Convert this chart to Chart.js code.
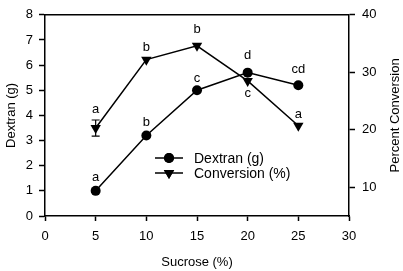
<!DOCTYPE html>
<html>
<head>
<meta charset="utf-8">
<script src="https://cdn.jsdelivr.net/npm/chart.js@4.4.0/dist/chart.umd.min.js"></script>
<style>
  html, body { margin: 0; padding: 0; background: #fff; }
  #wrap { width: 403px; height: 271px; }
</style>
</head>
<body>
<div id="wrap"><canvas id="dextranChart"></canvas></div>
<script>
// sucrose concentration (%)
var sucrose = [5, 10, 15, 20, 25];
// dextran yield (g), left axis
var dextran = [1.0, 3.2, 5.0, 5.7, 5.2];
var dextranLetters = ["a", "b", "c", "d", "cd"];
// percent conversion, right axis
var conversion = [20.3, 32.2, 34.6, 28.5, 20.7];
var conversionErr = [1.4, 0, 0, 0, 0];
var conversionLetters = ["a", "b", "b", "c", "a"];
// tick labels
var xTicks = [0, 5, 10, 15, 20, 25, 30];
var leftTicks = [0, 1, 2, 3, 4, 5, 6, 7, 8];
var rightTicks = [10, 20, 30, 40];

var FONT = "'Liberation Sans', Arial, sans-serif";

var toPoints = function(xs, ys) {
  return xs.map(function(x, i) { return { x: x, y: ys[i] }; });
};

// letter offsets (px): negative = above the point
var dexOffsets = [-13, -13, -12, -17, -16];
var convOffsets = [-19, -12, -16, 13, -11];

var extrasPlugin = {
  id: 'extras',
  afterDatasetsDraw: function(chart) {
    var ctx = chart.ctx;
    var xs = chart.scales.x, yl = chart.scales.y, yr = chart.scales.y2;
    var area = chart.chartArea;
    ctx.save();

    // top frame line
    ctx.strokeStyle = '#000';
    ctx.lineWidth = 1.5;
    ctx.beginPath();
    ctx.moveTo(area.left, area.top);
    ctx.lineTo(area.right, area.top);
    ctx.stroke();

    // error bars on conversion
    ctx.lineWidth = 1.2;
    conversion.forEach(function(v, i) {
      if (!conversionErr[i]) return;
      var px = xs.getPixelForValue(sucrose[i]);
      var top = yr.getPixelForValue(v + conversionErr[i]);
      var bot = yr.getPixelForValue(v - conversionErr[i]);
      ctx.beginPath();
      ctx.moveTo(px, top); ctx.lineTo(px, bot);
      ctx.moveTo(px - 4, top); ctx.lineTo(px + 4, top);
      ctx.moveTo(px - 4, bot); ctx.lineTo(px + 4, bot);
      ctx.stroke();
    });

    // significance letters
    ctx.fillStyle = '#000';
    ctx.font = '13px ' + FONT;
    ctx.textAlign = 'center';
    ctx.textBaseline = 'middle';
    dextranLetters.forEach(function(t, i) {
      ctx.fillText(t, xs.getPixelForValue(sucrose[i]), yl.getPixelForValue(dextran[i]) + dexOffsets[i]);
    });
    conversionLetters.forEach(function(t, i) {
      ctx.fillText(t, xs.getPixelForValue(sucrose[i]), yr.getPixelForValue(conversion[i]) + convOffsets[i]);
    });

    // legend inside plot
    var items = [
      { label: 'Dextran (g)', style: 'circle', r: 5, rot: 0 },
      { label: 'Conversion (%)', style: 'triangle', r: 6, rot: 180 }
    ];
    items.forEach(function(it, k) {
      var ly = 158 + k * 15;
      ctx.strokeStyle = '#000';
      ctx.lineWidth = 1.5;
      ctx.beginPath();
      ctx.moveTo(155, ly); ctx.lineTo(183, ly);
      ctx.stroke();
      ctx.fillStyle = '#000';
      Chart.helpers.drawPoint(ctx, { pointStyle: it.style, radius: it.r, rotation: it.rot, borderWidth: 0 }, 169, ly);
      ctx.fill();
      ctx.textAlign = 'left';
      ctx.font = '14px ' + FONT;
      ctx.fillText(it.label, 194, ly + 1);
    });

    // right axis title (reads bottom to top)
    ctx.save();
    ctx.translate(395, (area.top + area.bottom) / 2);
    ctx.rotate(-Math.PI / 2);
    ctx.textAlign = 'center';
    ctx.textBaseline = 'middle';
    ctx.font = '13px ' + FONT;
    ctx.fillText('Percent Conversion', 0, 0);
    ctx.restore();

    ctx.restore();
  }
};

var tickFont = { family: FONT, size: 13 };

new Chart(document.getElementById('dextranChart').getContext('2d'), {
  type: 'line',
  data: {
    datasets: [{
      label: 'Dextran (g)',
      data: toPoints(sucrose, dextran),
      yAxisID: 'y',
      borderColor: '#000',
      backgroundColor: '#000',
      borderWidth: 1.5,
      pointStyle: 'circle',
      pointRadius: 5,
      pointBorderWidth: 0,
      tension: 0
    }, {
      label: 'Conversion (%)',
      data: toPoints(sucrose, conversion),
      yAxisID: 'y2',
      borderColor: '#000',
      backgroundColor: '#000',
      borderWidth: 1.5,
      pointStyle: 'triangle',
      pointRotation: 180,
      pointRadius: 6,
      pointBorderWidth: 0,
      tension: 0
    }]
  },
  options: {
    responsive: true,
    maintainAspectRatio: false,
    animation: false,
    layout: { padding: { top: 9, left: 0, right: 0, bottom: 0 } },
    plugins: { legend: { display: false }, tooltip: { enabled: false } },
    scales: {
      x: {
        type: 'linear', position: 'bottom', min: 0, max: 30,
        afterBuildTicks: function(s) { s.ticks = xTicks.map(function(v) { return { value: v }; }); },
        afterFit: function(s) { s.height = 55; },
        grid: { drawOnChartArea: false, drawTicks: true, tickLength: 5, tickWidth: 1.5, color: '#000' },
        border: { display: true, color: '#000', width: 1.5 },
        ticks: { color: '#000', font: tickFont, padding: 8, maxRotation: 0 },
        title: { display: true, text: 'Sucrose (%)', color: '#000', font: { family: FONT, size: 13 }, padding: { top: 0, bottom: 1 } }
      },
      y: {
        type: 'linear', position: 'left', min: 0, max: 8,
        afterBuildTicks: function(s) { s.ticks = leftTicks.map(function(v) { return { value: v }; }); },
        afterFit: function(s) { s.width = 45; },
        grid: { drawOnChartArea: false, drawTicks: true, tickLength: 6, tickWidth: 1.5, color: '#000' },
        border: { display: true, color: '#000', width: 1.5 },
        ticks: { color: '#000', font: tickFont, padding: 6 },
        title: { display: true, text: 'Dextran (g)', color: '#000', font: { family: FONT, size: 13 }, padding: { top: 4, bottom: 0 } }
      },
      y2: {
        type: 'linear', position: 'right', min: 5, max: 40,
        afterBuildTicks: function(s) { s.ticks = rightTicks.map(function(v) { return { value: v }; }); },
        afterFit: function(s) { s.width = 54; },
        grid: { drawOnChartArea: false, drawTicks: true, tickLength: 6, tickWidth: 1.5, color: '#000' },
        border: { display: true, color: '#000', width: 1.5 },
        ticks: { color: '#000', font: tickFont, padding: 7 }
      }
    }
  },
  plugins: [extrasPlugin]
});
</script>
</body>
</html>
